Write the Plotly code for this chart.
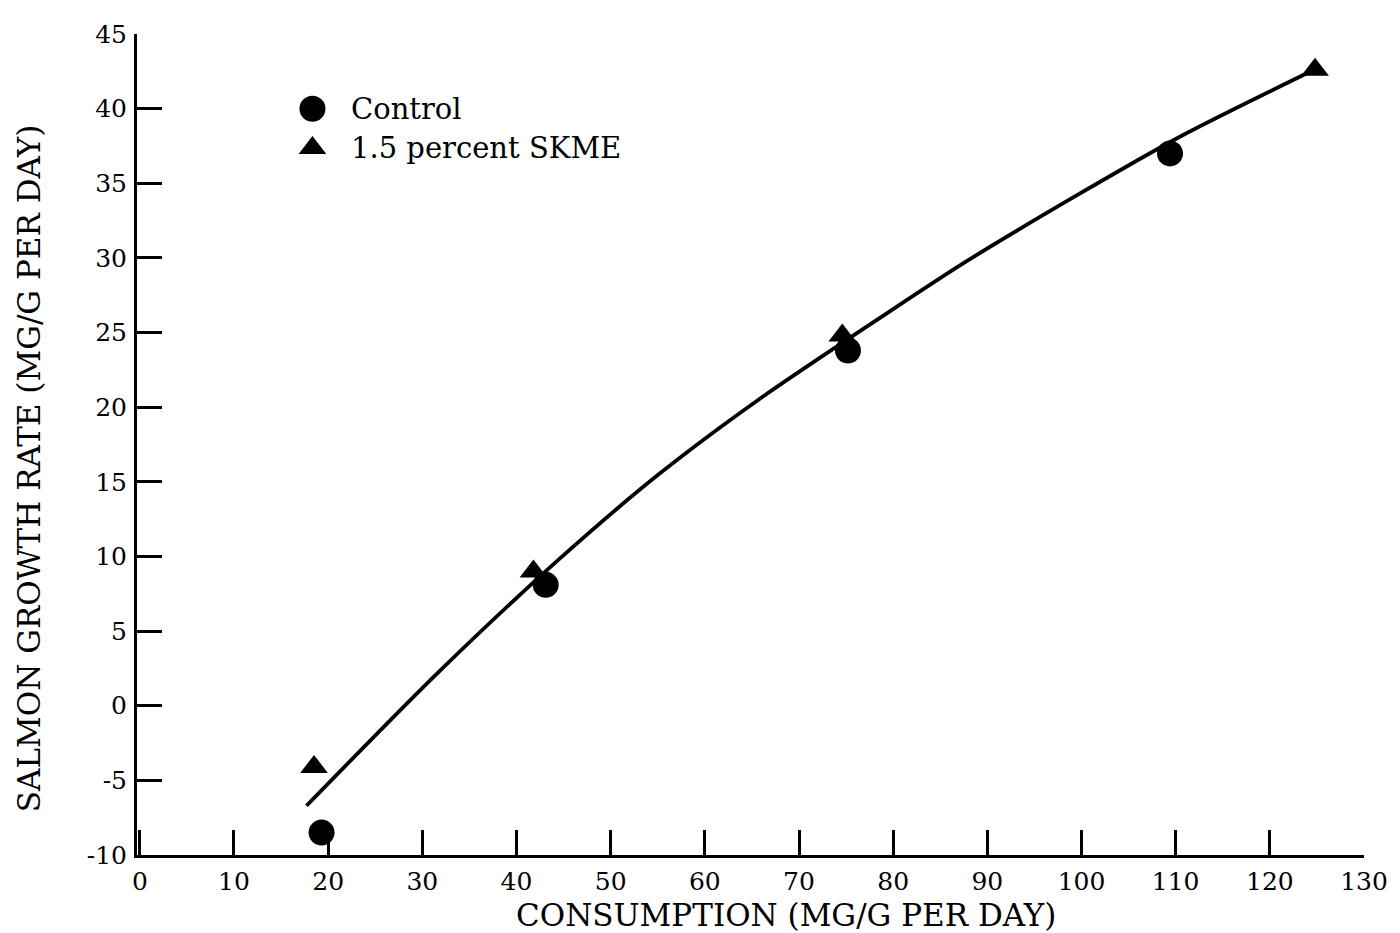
import plotly.graph_objects as go

# ---- data ----
control_x = [19.3, 43.1, 75.2, 109.4]
control_y = [-8.5, 8.1, 23.8, 37.0]

skme_x = [18.5, 41.8, 74.6, 124.8]
skme_y = [-4.1, 9.0, 24.8, 42.6]

curve_x = [17.7, 31.8, 44.5, 55.1, 65.7, 78.4, 87.6, 99.8, 110.4, 124.7]
curve_y = [-6.7, 2.3, 9.8, 15.5, 20.5, 25.9, 29.7, 34.3, 38.1, 42.6]

x_ticks = [0, 10, 20, 30, 40, 50, 60, 70, 80, 90, 100, 110, 120, 130]
y_ticks = [-10, -5, 0, 5, 10, 15, 20, 25, 30, 35, 40, 45]
y_ticktext = ["-10", "-5", "0", "5", "10", "15", "20", "25", "30", "35", "40", "45"]

legend_labels = ["Control", "1.5 percent SKME"]
x_title = "CONSUMPTION (MG/G PER DAY)"
y_title = "SALMON GROWTH RATE (MG/G PER DAY)"

FONT = "DejaVu Serif"
BLACK = "black"

fig = go.Figure()

fig.add_trace(go.Scatter(x=curve_x, y=curve_y, mode="lines",
                         line=dict(color=BLACK, width=3.8, shape="spline", smoothing=0.8),
                         showlegend=False, hoverinfo="skip"))
fig.add_trace(go.Scatter(x=control_x, y=control_y, mode="markers",
                         marker=dict(symbol="circle", size=26, color=BLACK),
                         name=legend_labels[0], showlegend=False))
fig.add_trace(go.Scatter(x=skme_x, y=skme_y, mode="markers",
                         marker=dict(symbol="triangle-up", size=24, color=BLACK),
                         name=legend_labels[1], showlegend=False))

# hand-drawn style legend on an overlay axis (0..1 of the plot area)
leg_x = 0.143
leg_y = [0.909, 0.861]
fig.add_trace(go.Scatter(x=[leg_x], y=[leg_y[0]], xaxis="x2", yaxis="y2", mode="markers",
                         marker=dict(symbol="circle", size=26, color=BLACK),
                         showlegend=False, hoverinfo="skip", cliponaxis=False))
fig.add_trace(go.Scatter(x=[leg_x], y=[leg_y[1]], xaxis="x2", yaxis="y2", mode="markers",
                         marker=dict(symbol="triangle-up", size=24, color=BLACK),
                         showlegend=False, hoverinfo="skip", cliponaxis=False))

annotations = []
for lbl, yy in zip(legend_labels, leg_y):
    annotations.append(dict(text=lbl, xref="x2", yref="y2", x=0.173, y=yy,
                            xanchor="left", yanchor="middle", showarrow=False,
                            font=dict(family=FONT, size=29, color=BLACK)))
annotations.append(dict(text=x_title, xref="paper", yref="paper", x=0.529, y=-0.073,
                        xanchor="center", yanchor="middle", showarrow=False,
                        font=dict(family=FONT, size=31, color=BLACK)))
annotations.append(dict(text=y_title, xref="paper", yref="paper", x=-0.088, y=0.47,
                        xanchor="center", yanchor="middle", showarrow=False, textangle=-90,
                        font=dict(family=FONT, size=31, color=BLACK)))

axis_common = dict(showgrid=False, zeroline=False, showline=True, linecolor=BLACK,
                   linewidth=3, ticks="inside", ticklen=25, tickwidth=2.5,
                   tickcolor=BLACK, tickfont=dict(family=FONT, size=25, color=BLACK))

# the page body adds an 8px offset; compensate so the plot area lands where the reference has it
fig.update_layout(
    width=1392, height=925,
    margin=dict(l=129, r=32, t=22, b=78),
    paper_bgcolor="white", plot_bgcolor="white",
    showlegend=False,
    annotations=annotations,
    xaxis=dict(range=[-0.3, 130], tickmode="array", tickvals=x_ticks,
               ticklabelstandoff=2, **axis_common),
    yaxis=dict(range=[-10, 45], tickmode="array", tickvals=y_ticks, ticktext=y_ticktext,
               ticklabelstandoff=2, **axis_common),
    xaxis2=dict(range=[0, 1], overlaying="x", visible=False, fixedrange=True),
    yaxis2=dict(range=[0, 1], overlaying="y", visible=False, fixedrange=True),
)

fig.write_html("out.html")
